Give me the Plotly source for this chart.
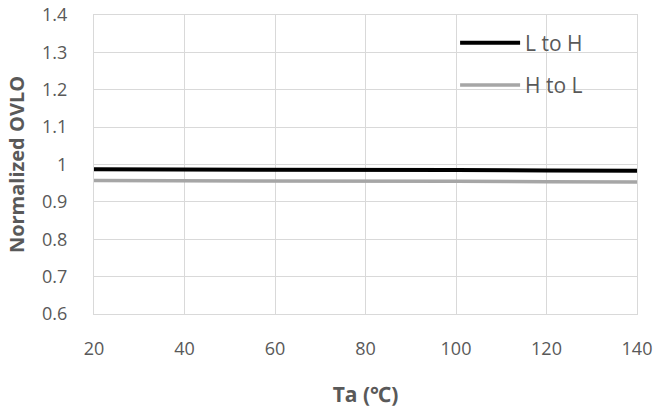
import plotly.graph_objects as go

ta = [20, 40, 60, 80, 100, 120, 140]
l_to_h = [0.987, 0.987, 0.986, 0.986, 0.985, 0.984, 0.983]
h_to_l = [0.957, 0.957, 0.956, 0.955, 0.955, 0.954, 0.953]
x_ticks = [20, 40, 60, 80, 100, 120, 140]
y_ticks = [0.6, 0.7, 0.8, 0.9, 1.0, 1.1, 1.2, 1.3, 1.4]
y_labels = ["0.6", "0.7", "0.8", "0.9", "1", "1.1", "1.2", "1.3", "1.4"]

fig = go.Figure()
fig.add_trace(go.Scatter(x=ta, y=l_to_h, mode="lines", name="L to H",
                         line=dict(color="#000000", width=4), legendgroup="a"))
fig.add_trace(go.Scatter(x=ta, y=h_to_l, mode="lines", name="H to L",
                         line=dict(color="#a6a6a6", width=3.5), legendgroup="b"))

font_family = "Open Sans, Noto Sans, sans-serif"
fig.update_layout(
    width=656, height=412,
    margin=dict(l=94, r=19, t=15, b=98, autoexpand=False),
    paper_bgcolor="white", plot_bgcolor="white",
    font=dict(family=font_family, color="#595959", size=18),
    showlegend=True,
    legend=dict(x=0.665, y=0.975, xanchor="left", yanchor="top",
                bgcolor="rgba(0,0,0,0)", font=dict(size=21, color="#595959"),
                traceorder="grouped", tracegroupgap=12, itemwidth=60),
    xaxis=dict(range=[20, 140], tickvals=x_ticks, showgrid=True, gridcolor="#d9d9d9",
               gridwidth=1, zeroline=False, showline=True, linecolor="#d9d9d9",
               mirror=True, ticks="", ticklabelstandoff=18, automargin=False,
               ticklabeloverflow="allow",
               title=dict(text="<b>Ta (℃)</b>", font=dict(size=21, color="#595959", family=font_family), standoff=28)),
    yaxis=dict(range=[0.6, 1.4], tickvals=y_ticks, ticktext=y_labels, showgrid=True,
               gridcolor="#d9d9d9", gridwidth=1, zeroline=False, showline=True,
               linecolor="#d9d9d9", mirror=True, ticks="", ticklabelstandoff=22, automargin=False,
               ticklabeloverflow="allow",
               title=dict(text="<b>Normalized OVLO</b>", font=dict(size=20, color="#595959", family=font_family), standoff=12)),
)

fig.write_html("out.html", config={"displayModeBar": False},
               post_script="document.body.style.margin='0';document.body.style.padding='0';")
